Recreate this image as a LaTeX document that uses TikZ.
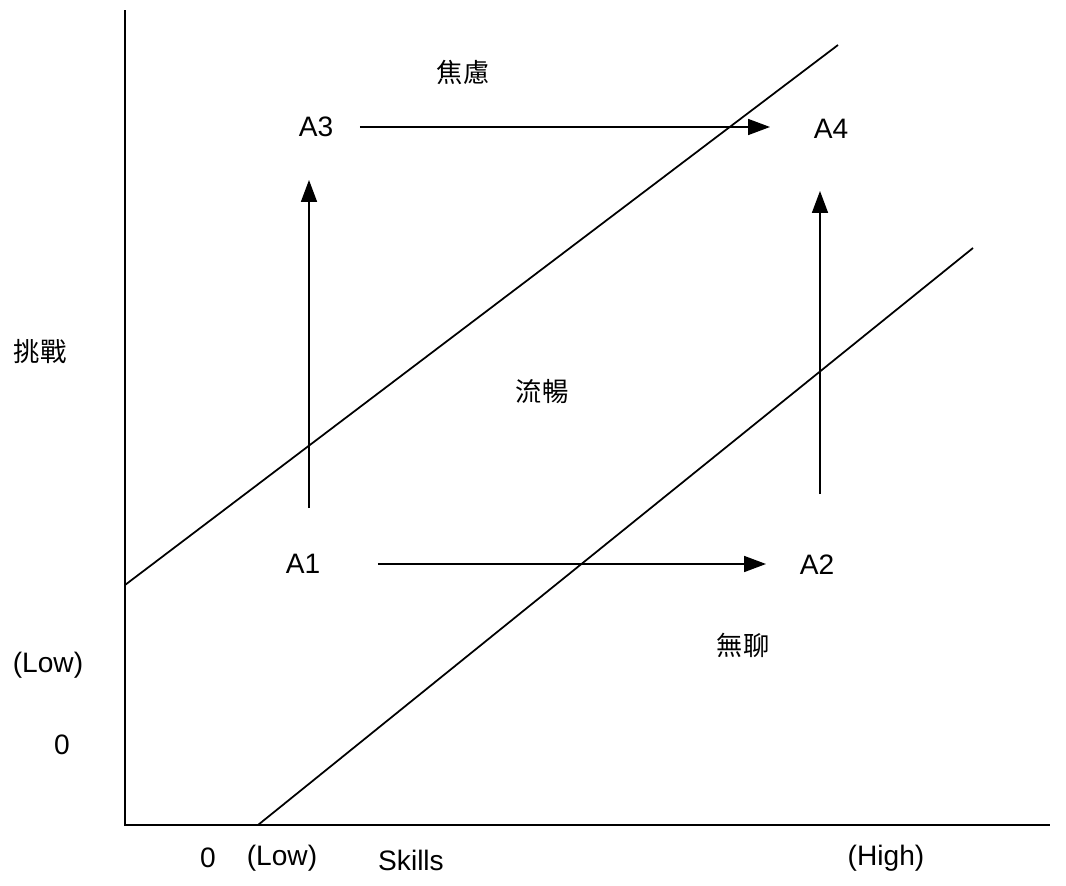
\documentclass[tikz,border=0pt]{standalone}
\usepackage{fontspec}
\usepackage{tikz}
\usetikzlibrary{arrows.meta}
\setmainfont{Liberation Sans}
\newfontfamily\cjk{Noto Sans CJK TC}

\begin{document}
\begin{tikzpicture}[x=0.02cm,y=-0.02cm,
		every node/.style={inner sep=0pt,font=\fontsize{16}{18}\selectfont},
		zh/.style={font=\fontsize{15}{18}\selectfont\cjk},
		flow/.style={line width=1pt,-{Triangle[length=0.44cm,width=0.32cm]}}]
		\useasboundingbox (0,0) rectangle (1066,886);
		% axes
		\draw [line width=1pt] (125,10) -- (125,825) -- (1050,825);
		% diagonal bands
		\draw [line width=1pt] (125,585) -- (838,45);
		\draw [line width=1pt] (258,825) -- (973,248);
		% states
		\node (A1) at (303,564) {A1};
		\node (A2) at (817,565) {A2};
		\node (A3) at (316,127) {A3};
		\node (A4) at (831,129) {A4};
		\draw [flow, shorten <=1.5cm, shorten >=1.02cm] (A1.center) -- (A2.center |- A1.center);
		\draw [flow, shorten <=0.88cm, shorten >=1.22cm] (A3.center) -- (A4.center |- A3.center);
		\draw [flow, shorten <=1.12cm, shorten >=1.06cm] (309,0 |- A1) -- (309,0 |- A3);
		\draw [flow, shorten <=1.42cm, shorten >=1.24cm] (820,0 |- A2) -- (820,0 |- A4);
		% regions
		\node [zh] (anxiety) at (463,72) {焦慮};
		\node [zh] (flowzone) at (542,392) {流暢};
		\node [zh] (boredom) at (743,645) {無聊};
		\node [zh] (challenge) at (40,352) {挑戰};
		% axis labels
		\node (ylow) at (48,665) {(Low)};
		\node (yzero) at (62,745) {0};
		\node (xzero) at (208,858) {0};
		\node (xlow) at (282,858) {(Low)};
		\node (skills) at (411,860) {Skills};
		\node (xhigh) at (886,858) {(High)};
	\end{tikzpicture}
\end{document}
